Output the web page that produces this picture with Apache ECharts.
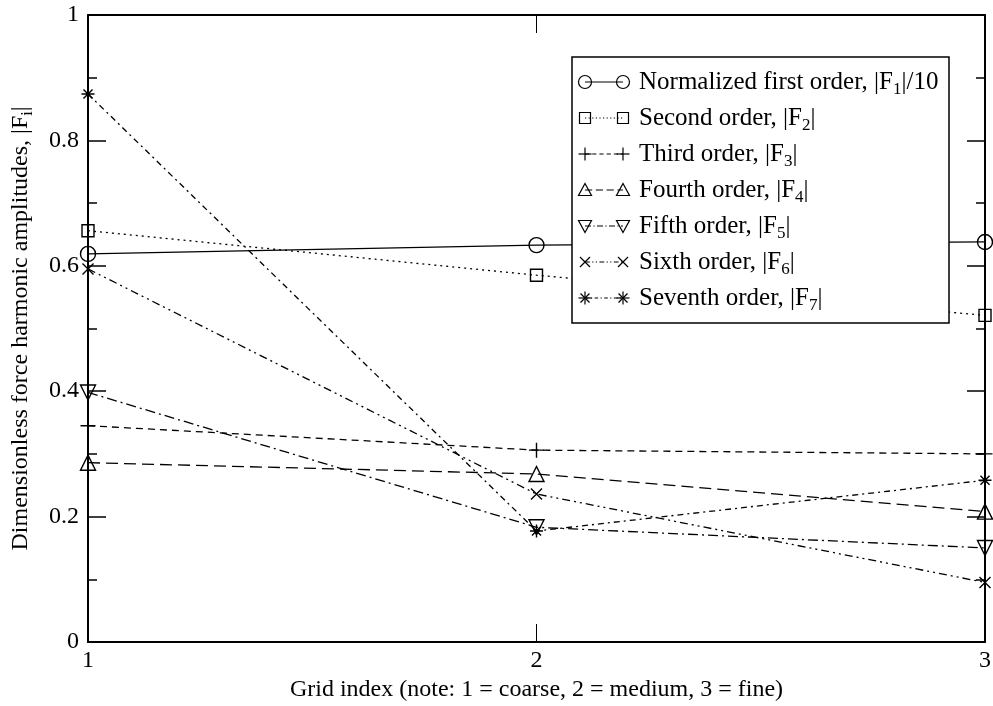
<!DOCTYPE html>
<html>
<head>
<meta charset="utf-8">
<script src="https://cdn.jsdelivr.net/npm/echarts@6/dist/echarts.min.js"></script>
<style>
  html, body { margin: 0; padding: 0; background: #fff; }
  #main { width: 993px; height: 706px; }
</style>
</head>
<body>
<div id="main"></div>
<script>
var myChart = echarts.init(document.getElementById('main'));

// grid index 1 = coarse, 2 = medium, 3 = fine
var gridIndex = [1, 2, 3];
var f1 = [0.619, 0.633, 0.638];   // |F1|/10
var f2 = [0.656, 0.585, 0.521];
var f3 = [0.345, 0.306, 0.300];
var f4 = [0.286, 0.268, 0.208];
var f5 = [0.398, 0.183, 0.150];
var f6 = [0.595, 0.236, 0.095];
var f7 = [0.874, 0.177, 0.258];
var yTicks = [0, 0.2, 0.4, 0.6, 0.8, 1];

var FONT = 'Liberation Serif';

// marker shapes used on the lines
var SYM = {
  circle: 'circle',
  square: 'rect',
  plus: 'path://M0,5L10,5M5,0L5,10',
  triUp: 'triangle',
  triDown: 'triangle',
  cross: 'path://M0,0L10,10M10,0L0,10',
  star: 'path://M0,5L10,5M5,0L5,10M1.5,1.5L8.5,8.5M8.5,1.5L1.5,8.5'
};

var defs = [
  { name: 'Normalized first order', sub: '1', tail: '/10', data: f1, sym: 'circle', size: 15, dash: 'solid' },
  { name: 'Second order', sub: '2', tail: '', data: f2, sym: 'square', size: 12, dash: [2, 4] },
  { name: 'Third order', sub: '3', tail: '', data: f3, sym: 'plus', size: 15, dash: [7, 5] },
  { name: 'Fourth order', sub: '4', tail: '', data: f4, sym: 'triUp', size: 15, dash: [12, 6] },
  { name: 'Fifth order', sub: '5', tail: '', data: f5, sym: 'triDown', size: 15, dash: [10, 4, 2, 4] },
  { name: 'Sixth order', sub: '6', tail: '', data: f6, sym: 'cross', size: 11, dash: [8, 4, 2, 4, 2, 4] },
  { name: 'Seventh order', sub: '7', tail: '', data: f7, sym: 'star', size: 13, dash: [6, 4, 2, 4] }
];

var series = defs.map(function (d) {
  return {
    name: d.name,
    type: 'line',
    data: gridIndex.map(function (x, i) { return [x, d.data[i]]; }),
    symbol: SYM[d.sym],
    symbolSize: d.size,
    symbolRotate: d.sym === 'triDown' ? 180 : 0,
    showAllSymbol: true,
    clip: false,
    lineStyle: { color: '#000', width: 1.3, type: d.dash },
    itemStyle: { color: 'rgba(0,0,0,0)', borderColor: '#000', borderWidth: 1.4 },
    emphasis: { disabled: true },
    z: 3
  };
});

// hand-drawn legend box (symbol - line - symbol, with subscripts)
function marker(kind, cx, cy) {
  var st = { fill: 'none', stroke: '#000', lineWidth: 1.2 };
  var r = 6.5;
  switch (kind) {
    case 'circle': return [{ type: 'circle', shape: { cx: cx, cy: cy, r: r }, style: st }];
    case 'square': return [{ type: 'rect', shape: { x: cx - 5.5, y: cy - 5.5, width: 11, height: 11 }, style: st }];
    case 'plus': return [
      { type: 'line', shape: { x1: cx - r, y1: cy, x2: cx + r, y2: cy }, style: st },
      { type: 'line', shape: { x1: cx, y1: cy - r, x2: cx, y2: cy + r }, style: st }];
    case 'triUp': return [{ type: 'polygon', shape: { points: [[cx - r, cy + 5.5], [cx + r, cy + 5.5], [cx, cy - 6.5]] }, style: st }];
    case 'triDown': return [{ type: 'polygon', shape: { points: [[cx - r, cy - 5.5], [cx + r, cy - 5.5], [cx, cy + 6.5]] }, style: st }];
    case 'cross': return [
      { type: 'line', shape: { x1: cx - 5, y1: cy - 5, x2: cx + 5, y2: cy + 5 }, style: st },
      { type: 'line', shape: { x1: cx + 5, y1: cy - 5, x2: cx - 5, y2: cy + 5 }, style: st }];
    case 'star': return [
      { type: 'line', shape: { x1: cx - r, y1: cy, x2: cx + r, y2: cy }, style: st },
      { type: 'line', shape: { x1: cx, y1: cy - r, x2: cx, y2: cy + r }, style: st },
      { type: 'line', shape: { x1: cx - 4.5, y1: cy - 4.5, x2: cx + 4.5, y2: cy + 4.5 }, style: st },
      { type: 'line', shape: { x1: cx + 4.5, y1: cy - 4.5, x2: cx - 4.5, y2: cy + 4.5 }, style: st }];
  }
  return [];
}

var legendItems = [{
  type: 'rect',
  shape: { x: 572, y: 57, width: 377, height: 266 },
  style: { fill: '#fff', stroke: '#000', lineWidth: 1.5 }
}];
defs.forEach(function (d, i) {
  var cy = 82 + i * 36;
  legendItems.push({
    type: 'line',
    shape: { x1: 585, y1: cy, x2: 623, y2: cy },
    style: { stroke: '#000', lineWidth: 1.2, lineDash: d.dash === 'solid' ? null : d.dash.map(function (v) { return v * 0.6; }) }
  });
  legendItems = legendItems.concat(marker(d.sym, 585, cy), marker(d.sym, 623, cy));
  legendItems.push({
    type: 'text',
    x: 639, y: cy,
    style: {
      text: d.name + ', |F{s|' + d.sub + '}|' + d.tail,
      font: '25px "' + FONT + '"',
      fill: '#000',
      verticalAlign: 'middle',
      rich: {
        s: { fontSize: 17, fontFamily: FONT, verticalAlign: 'bottom', padding: [15, 0, 0, 0] }
      }
    }
  });
});
legendItems.forEach(function (el, i) { el.z = 100 + (i === 0 ? 0 : 1); });

var axisCommon = {
  axisLine: { show: true, onZero: false, lineStyle: { color: '#000', width: 2 } },
  splitLine: { show: false }
};

var option = {
  backgroundColor: '#fff',
  animation: false,
  grid: { left: 88, right: 8, top: 15, bottom: 64, containLabel: false, outerBoundsMode: 'none' },
  xAxis: [
    Object.assign({
      type: 'value', min: 1, max: 3, interval: 1,
      name: 'Grid index (note: 1 = coarse, 2 = medium, 3 = fine)',
      nameLocation: 'middle', nameGap: 33,
      nameTextStyle: { fontFamily: FONT, fontSize: 24, color: '#000' },
      axisTick: { inside: true, length: 18, lineStyle: { color: '#000', width: 1 } },
      axisLabel: { fontFamily: FONT, fontSize: 24, color: '#000', margin: 7 }
    }, axisCommon),
    Object.assign({
      type: 'value', min: 1, max: 3, interval: 1, position: 'top',
      axisTick: { inside: true, length: 18, lineStyle: { color: '#000', width: 1 } },
      axisLabel: { show: false }
    }, axisCommon)
  ],
  yAxis: [
    Object.assign({
      type: 'value', min: yTicks[0], max: yTicks[yTicks.length - 1], interval: 0.2,
      name: 'Dimensionless force harmonic amplitudes, |F{s|i}|',
      nameLocation: 'middle', nameGap: 52,
      nameTextStyle: {
        fontFamily: FONT, fontSize: 24, color: '#000',
        rich: { s: { fontSize: 16, fontFamily: FONT, verticalAlign: 'bottom', padding: [14, 0, 0, 0] } }
      },
      axisTick: { inside: true, length: 18, lineStyle: { color: '#000', width: 1.5 } },
      minorTick: { show: true, splitNumber: 2, length: 9, lineStyle: { color: '#000', width: 1.5 } },
      axisLabel: { fontFamily: FONT, fontSize: 24, color: '#000', margin: 9 }
    }, axisCommon),
    Object.assign({
      type: 'value', min: yTicks[0], max: yTicks[yTicks.length - 1], interval: 0.2, position: 'right',
      axisTick: { inside: true, length: 18, lineStyle: { color: '#000', width: 1.5 } },
      minorTick: { show: true, splitNumber: 2, length: 9, lineStyle: { color: '#000', width: 1.5 } },
      axisLabel: { show: false }
    }, axisCommon)
  ],
  graphic: { elements: legendItems },
  series: series
};

myChart.setOption(option);
</script>
</body>
</html>
